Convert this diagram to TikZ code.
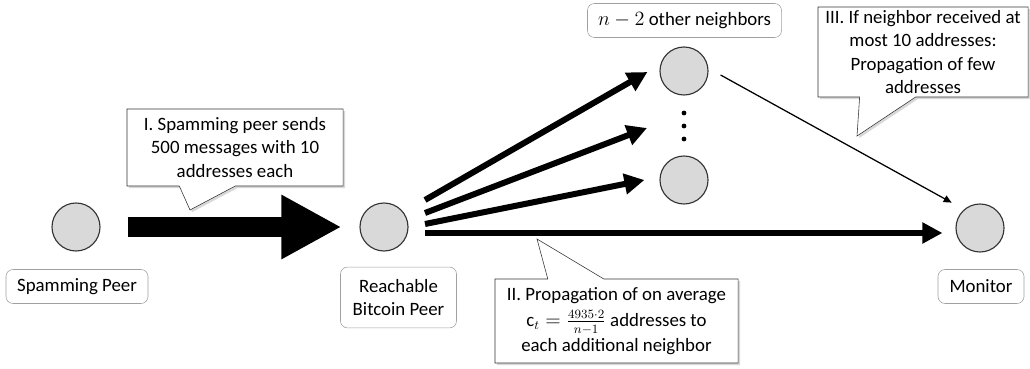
\documentclass[tikz,border=0pt]{standalone}
\usepackage{fontspec}
\setmainfont{Carlito}
\usetikzlibrary{arrows.meta,shapes.callouts,shadows}
\definecolor{peerfill}{RGB}{217,217,217}
\definecolor{labelgray}{RGB}{160,160,160}

\begin{document}
\begin{tikzpicture}[x=0.025cm,y=0.025cm,
	font=\fontsize{13.4}{16.5}\selectfont,
	peer/.style={circle,draw=black!80,line width=0.8pt,fill=peerfill,minimum size=1.2cm,inner sep=0pt},
	lbl/.style={draw=labelgray,rounded corners=5pt,align=center,inner xsep=4pt,inner ysep=0pt,minimum height=0.85cm},
	note/.style={rectangle callout,draw=black!80,fill=white,align=center,inner sep=0pt,callout pointer width=1.4cm,
		drop shadow={shadow xshift=1.5pt,shadow yshift=-1.5pt,fill=black!30}},
	fan/.style={line width=0.15cm,-{Triangle[length=0.5cm,width=0.5cm]}}]
	\useasboundingbox (0,0) rectangle (1030,368);
	% peers
	\node[peer] (spam) at (76,141) {};
	\node[peer] (reach) at (384,141) {};
	\node[peer] (nbt) at (684,297) {};
	\node[peer] (nbb) at (684,188) {};
	\node[peer] (mon) at (980,140) {};
	\foreach \y/\n in {255/1,242/2,229/3}
		\fill (684,\y) circle (1.7pt) coordinate (dot\n);
	% labels
	\node[lbl,minimum width=3.55cm] (spamlbl) at (77,81.5) {Spamming Peer};
	\node[lbl,minimum width=2.9cm,minimum height=1.52cm] (reachlbl) at (398.5,70.5) {Reachable\\Bitcoin Peer};
	\node[lbl,minimum width=4.85cm] (nblbl) at (684.5,347.5) {$n-2$ other neighbors};
	\node[lbl,minimum width=2.15cm] (monlbl) at (981,81.5) {Monitor};
	% messages
	\draw[line width=0.5cm,-{Triangle[length=1.5cm,width=1.5cm]},shorten <=0.675cm,shorten >=0.45cm] (spam) -- (reach);
	\draw[fan] ([shift={(41,27)}]reach.center) -- ([shift={(-12,-1)}]nbt.west);
	\draw[fan] ([shift={(41,14)}]reach.center) -- ([shift={(-37,-2)}]dot2);
	\draw[fan] ([shift={(41,3)}]reach.center) -- ([shift={(-15,0)}]nbb.west);
	\draw[fan] ([shift={(41,-6)}]reach.center) -- ([shift={(-13,-5)}]mon.west);
	\draw[line width=0.9pt,-{Triangle[length=0.2cm,width=0.18cm]}] ([shift={(12,-4)}]nbt.east) -- ([shift={(-11,8)}]mon.north west);
	% callouts
	\node[note,minimum width=5.4cm,minimum height=1.925cm,callout absolute pointer={(190,158)}] (step1) at (235,220.5)
		{I. Spamming peer sends\\500 messages with 10\\addresses each};
	\node[note,minimum width=6.075cm,minimum height=2.1cm,callout absolute pointer={(537,129)}] (step2) at (616.5,47)
		{II. Propagation of on average\\[2pt]$\mathrm{c}_t=\frac{4935\cdot 2}{n-1}$ addresses to\\[1pt]each additional neighbor};
	\node[note,minimum width=5.25cm,minimum height=2.25cm,callout absolute pointer={(857,232)}] (step3) at (923,316)
		{III. If neighbor received at\\most 10 addresses:\\Propagation of few\\addresses};
\end{tikzpicture}
\end{document}
